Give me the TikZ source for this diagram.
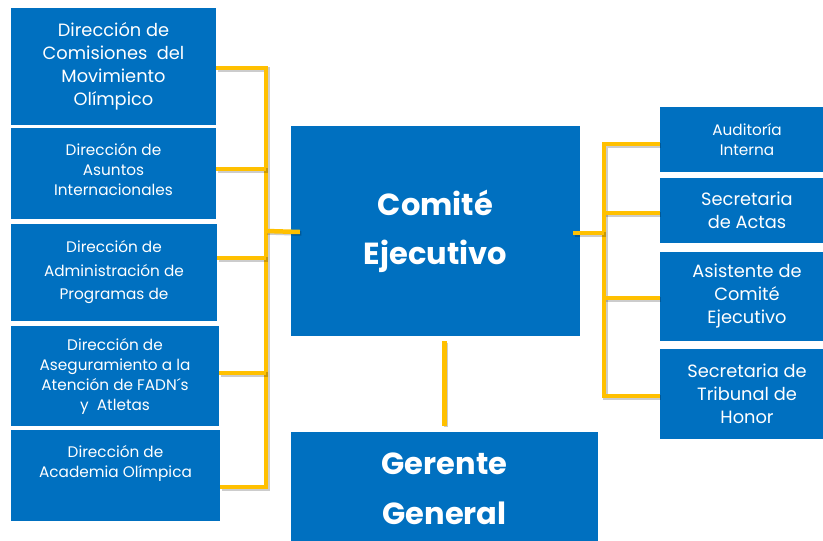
\documentclass[tikz,border=0pt]{standalone}
\usepackage{fontspec}
\setmainfont{Poppins}
\usetikzlibrary{calc}
\definecolor{boxblue}{HTML}{0070C0}
\definecolor{lineyellow}{HTML}{FFC000}
\tikzset{
    box/.style={fill=boxblue,text=white,align=center,inner sep=0pt},
    small text/.style={font=\fontsize{15.3}{20}\selectfont},
    big text/.style={font=\fontsize{17.8}{23}\selectfont},
    head text/.style={font=\fontsize{30.5}{49}\selectfont\bfseries},
    conn/.style={draw=lineyellow,line width=4.5pt,
        preaction={draw=black,opacity=0.2,line width=4.5pt,
            transform canvas={shift={(1.5pt,-1.5pt)}}}}
}

\begin{document}
\begin{tikzpicture}[x=1pt,y=-1pt]
\useasboundingbox (0,0) rectangle (823,541);
\clip (0,0) rectangle (823,541);

% left column
\node (d1) at (113.5,66.5)[box,big text,minimum width=205,minimum height=117]
  {Dirección de\\Comisiones\ \ del\\Movimiento\\Olímpico};
\node (d2) at (113.5,173.5)[box,small text,minimum width=205,minimum height=91,
  text depth=8]
  {Dirección de\\Asuntos\\Internacionales};
\node (d3) at (114,272.5)[box,small text,minimum width=206,minimum height=97,
  font=\fontsize{15.3}{23.5}\selectfont]
  {Dirección de\\Administración de\\Programas de};
\node (d4) at (115,376)[box,small text,minimum width=208,minimum height=100]
  {Dirección de\\Aseguramiento a la\\Atención\ de FADN´s\\y\ \ Atletas};
\node (d5) at (115.5,475.5)[box,small text,minimum width=209,minimum height=91]
  {Dirección de\\Academia Olímpica\\[8pt]\mbox{}};

% centre
\node (comite) at (435.5,231)[box,head text,minimum width=289,minimum height=210]
  {Comité\\Ejecutivo};
\node (gerente) at (444.5,489)[box,head text,minimum width=307,minimum height=114,
  font=\fontsize{30.5}{50}\selectfont\bfseries]
  {Gerente\\General};

% right column
\node (r1) at (747,139.5)[box,small text,minimum width=174,minimum height=65]
  {Auditoría\\Interna};
\node (r2) at (747,210.5)[box,big text,minimum width=174,minimum height=65]
  {Secretaria\\de Actas};
\node (r3) at (747,296.5)[box,big text,minimum width=174,minimum height=89]
  {Asistente de\\Comité\\Ejecutivo};
\node (r4) at (747,394)[box,big text,minimum width=174,minimum height=90]
  {Secretaria de\\Tribunal de\\Honor};

% left bracket
\foreach \n/\y in {1/68,2/169,3/258,4/373,5/487}
  \coordinate (lb\n) at (266,\y);
\draw[conn] (d1.east |- lb1) -- (lb1) -- (lb5) -- (d5.east |- lb5);
\foreach \n in {2,3,4}
  \draw[conn] (d\n.east |- lb\n) -- (lb\n);
\draw[conn] (lb1 |- comite.west) -- ($(comite.west)+(9,1)$);

% right bracket
\foreach \n/\y in {1/144,2/213,3/298,4/396}
  \coordinate (rb\n) at (604,\y);
\draw[conn] (r1.west |- rb1) -- (rb1) -- (rb4) -- (r4.west |- rb4);
\foreach \n in {2,3}
  \draw[conn] (r\n.west |- rb\n) -- (rb\n);
\draw[conn] (rb1 |- 0,233) -- ($(comite.east)+(-7,2)$);

% down to gerente
\draw[conn] ($(gerente.north |- comite.south)+(0,5)$) -- ($(gerente.north)+(0,-6)$);

\end{tikzpicture}
\end{document}
